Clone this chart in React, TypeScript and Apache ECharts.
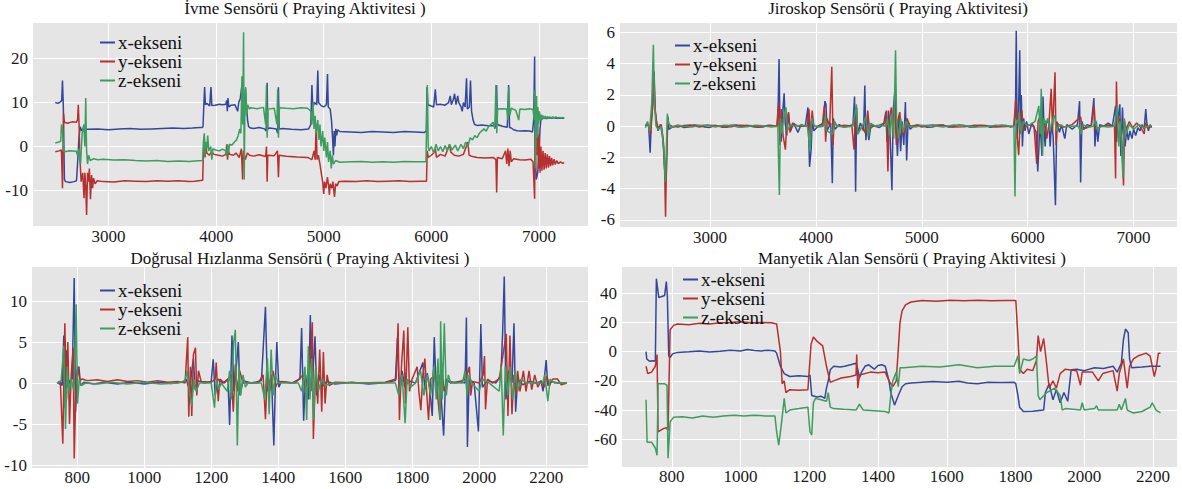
import React, { useEffect, useRef } from "react";
import * as echarts from "echarts";

type P = [number, number][];

// ---------- İvme (accelerometer) ----------
const accX: P = [[2505,10],[2530,9.8],[2555,10.2],[2565,10.5],[2572,15],[2580,9],[2590,-7.5],[2600,-8],[2640,-8.2],[2680,-8],[2702,-7.8],[2712,-4],[2725,2],[2737,4.5],[2750,3.6],[2770,4.2],[2800,3.9],[2900,4],[3000,3.8],[3100,4],[3200,4.1],[3300,3.9],[3400,4],[3500,4.1],[3600,4.2],[3700,4.1],[3780,4.2],[3850,4.3],[3870,4.3],[3878,4.5],[3885,9],[3893,13.5],[3900,9.5],[3915,9.8],[3940,9.2],[3952,13.5],[3960,9.3],[3990,9.4],[4030,9.6],[4060,9.5],[4090,9.6],[4098,10.5],[4104,8],[4110,11],[4118,9],[4140,9.4],[4175,9.5],[4200,8],[4210,10],[4225,11],[4240,14],[4250,9],[4262,8],[4272,13],[4282,9.5],[4292,6],[4302,4.5],[4320,4.2],[4350,4.1],[4400,4.3],[4450,4],[4465,3.5],[4474,14.5],[4480,4],[4500,4.2],[4560,4],[4572,3],[4579,13.5],[4586,4],[4620,4.1],[4700,3.9],[4790,3.8],[4860,4],[4880,5],[4890,14],[4898,9],[4915,10],[4935,9.5],[4945,17.3],[4952,10],[4975,9.3],[5000,9],[5025,9.5],[5035,16.5],[5042,9],[5060,8.5],[5072,6],[5082,2],[5090,-2],[5097,3.5],[5104,0],[5112,4],[5120,2.5],[5130,3.8],[5150,3.4],[5250,3.3],[5350,3.2],[5450,3.4],[5550,3.3],[5650,3.2],[5750,3.4],[5850,3.3],[5935,3.2],[5953,3.5],[5960,13.5],[5968,9.5],[6000,9.2],[6022,9],[6037,13],[6048,9.5],[6085,9.6],[6128,9.4],[6160,10],[6176,11.5],[6186,9.5],[6202,10.5],[6216,12],[6229,9.5],[6245,11.5],[6255,10],[6276,9],[6287,8],[6298,10],[6314,9],[6327,15.5],[6335,8.5],[6353,9],[6364,15],[6374,8],[6388,6],[6402,5],[6425,4.8],[6467,4.9],[6531,4.7],[6584,4.8],[6595,4.2],[6607,14],[6614,5],[6659,4.6],[6706,4.4],[6718,14],[6727,4.3],[6743,4.2],[6765,3.8],[6797,3.6],[6828,3.5],[6871,3.6],[6913,3.5],[6940,3.3],[6951,6],[6960,20.5],[6963,3],[6968,-2],[6974,-7.5],[6980,-7],[6988,-6],[6995,-4],[7003,0],[7010,4],[7018,6],[7025,7.2],[7033,6.2],[7043,6.8],[7053,6.3],[7063,6.7],[7073,6.3],[7083,6.7],[7093,6.4],[7103,6.6],[7118,6.4],[7138,6.6],[7158,6.4],[7178,6.5],[7198,6.4],[7218,6.5],[7235,6.4]];

const accY: P = [[2505,-1.2],[2540,-1],[2562,-0.8],[2572,-9.5],[2582,7.5],[2590,5.5],[2620,5.3],[2660,5.6],[2700,5.5],[2712,6],[2719,9.5],[2726,5],[2735,-3],[2745,-8],[2760,-6],[2772,-11.8],[2780,-6],[2788,-9],[2796,-15.6],[2805,-6],[2814,-8],[2822,-5],[2832,-12],[2842,-6.5],[2852,-9.5],[2860,-7.2],[2875,-8.5],[2895,-7.8],[2950,-8],[3050,-8.1],[3150,-7.8],[3250,-7.9],[3350,-8],[3450,-7.8],[3550,-7.9],[3650,-7.8],[3750,-8],[3800,-7.9],[3875,-7.7],[3882,-1],[3890,2],[3897,-2.5],[3904,0.5],[3913,-1.5],[3935,-2],[3960,-1.2],[3980,-1.8],[4020,-2],[4060,-2.2],[4090,-1.8],[4099,0.5],[4106,-3],[4113,-1],[4125,-1.8],[4160,-2],[4185,-1.5],[4215,-2.5],[4235,-0.5],[4246,-7.5],[4254,-1],[4270,-3],[4290,-1.5],[4310,-2],[4350,-2.2],[4400,-1.9],[4460,-2.3],[4468,0],[4474,-8],[4480,-2],[4540,-2.1],[4570,-1],[4579,-7],[4586,-2],[4650,-2.2],[4750,-2.4],[4850,-2.5],[4890,-3],[4910,-1],[4920,-3],[4930,5],[4938,-3],[4950,-2],[4965,-4],[4980,-6.5],[4990,-8],[5000,-10.8],[5008,-8],[5020,-9.5],[5035,-7],[5045,-9],[5053,-11],[5060,-8.5],[5075,-9.5],[5085,-8],[5100,-11.5],[5110,-8.5],[5125,-9],[5140,-8],[5200,-7.9],[5300,-8],[5400,-7.8],[5500,-8],[5600,-7.9],[5700,-7.8],[5800,-8],[5900,-7.9],[5955,-7.9],[5962,-1],[5971,-2.5],[6000,-2],[6022,-1.5],[6037,-0.5],[6048,-2.5],[6085,-1.8],[6128,-2.2],[6170,0.5],[6181,-1.3],[6213,-2],[6255,-2.2],[6298,-1.8],[6340,1],[6351,-2],[6383,-2.3],[6425,-2.5],[6499,-2.6],[6574,-2.5],[6600,-3],[6607,-10.5],[6614,-2.5],[6659,-2.8],[6690,-1],[6701,-4],[6712,-0.5],[6722,-4.5],[6733,-1],[6743,-3.5],[6765,-2.8],[6818,-3],[6871,-3.1],[6924,-2.9],[6945,-3.5],[6960,-11.9],[6964,3],[6970,-1],[6975,5.5],[6980,-2],[6988,6],[6995,-5],[7003,2.5],[7010,-6],[7018,0],[7028,-5.5],[7038,-1],[7048,-5.3],[7058,-1.5],[7068,-5],[7078,-1.8],[7088,-4.8],[7098,-2.2],[7108,-4.5],[7118,-2.6],[7128,-4.3],[7140,-2.9],[7152,-4.1],[7165,-3.2],[7180,-3.9],[7200,-3.5],[7218,-3.8],[7235,-3.7]];

const accZ: P = [[2505,0.8],[2540,1],[2556,1.2],[2562,5],[2572,4],[2582,-1],[2590,-1.2],[2640,-1],[2700,-1.1],[2712,-2],[2725,-0.5],[2740,-4],[2755,3],[2770,5],[2780,0],[2788,11],[2796,-1],[2805,-4],[2815,-2],[2830,-3.2],[2860,-2.8],[2900,-3],[2950,-2.9],[3050,-3.1],[3150,-3],[3250,-3.2],[3350,-3.3],[3450,-3.2],[3550,-3.4],[3650,-3.3],[3750,-3.4],[3800,-3.3],[3875,-3.2],[3882,1],[3890,3],[3897,-2],[3904,1],[3913,-0.5],[3922,2.5],[3931,-1],[3950,0],[3960,-3],[3970,-0.5],[3995,-0.8],[4030,-1],[4060,-0.6],[4090,-1],[4099,-2.2],[4106,0.5],[4115,-1.5],[4125,0.5],[4145,0.3],[4170,1],[4190,1.5],[4205,2.5],[4220,4],[4230,3],[4240,16],[4247,5],[4255,26],[4261,-7.5],[4267,8],[4275,13.5],[4283,7],[4293,9.5],[4310,8.5],[4320,8.8],[4380,8.6],[4440,8.9],[4460,5],[4468,14],[4474,2],[4482,8.5],[4540,8.7],[4565,5],[4572,13],[4579,2],[4588,8.8],[4650,8.7],[4720,8.6],[4790,8.8],[4850,8.7],[4880,8],[4890,5],[4900,10],[4910,4],[4920,7],[4930,3],[4945,6],[4955,1.5],[4965,5],[4975,0],[4990,3.5],[5000,-1],[5010,2],[5025,-2.5],[5035,1],[5045,-3.5],[5060,-1],[5070,-5],[5080,-2],[5090,-4],[5110,-3.2],[5150,-3.6],[5250,-3.5],[5350,-3.4],[5450,-3.6],[5550,-3.5],[5650,-3.6],[5750,-3.4],[5850,-3.5],[5950,-3.5],[5963,14],[5971,0],[5979,-1],[6000,0],[6022,-1.5],[6043,0.5],[6064,-1],[6085,0],[6107,-1.2],[6128,0.2],[6149,-1],[6170,0.5],[6191,-0.8],[6223,0.3],[6245,-1],[6276,0.5],[6298,-0.5],[6319,1],[6340,0],[6361,2],[6383,1.5],[6404,2.5],[6425,2],[6446,3],[6467,3.5],[6489,4],[6510,3.5],[6531,4.5],[6552,5],[6574,5.5],[6590,4],[6600,14],[6608,3],[6616,8.5],[6659,8.6],[6701,8.5],[6712,6],[6720,13.5],[6729,7],[6743,8.7],[6786,8.2],[6812,6],[6823,8.5],[6871,8.4],[6913,8.6],[6945,8.4],[6956,6],[6963,13],[6968,-5],[6974,4],[6978,11.5],[6984,2],[6990,9],[6998,5],[7005,8],[7013,6],[7020,7.2],[7028,6.2],[7038,7],[7048,6.3],[7058,6.9],[7068,6.4],[7078,6.8],[7088,6.4],[7098,6.7],[7113,6.5],[7128,6.7],[7143,6.5],[7158,6.7],[7173,6.5],[7188,6.6],[7203,6.5],[7218,6.6],[7235,6.5]];

// ---------- Jiroskop (gyroscope) ----------
const gyroX: P = [[2390,0],[2405,0.2],[2420,0.1],[2435,-1.7],[2445,0.3],[2462,1.5],[2472,3.5],[2482,1],[2495,0.3],[2510,-0.3],[2530,0.1],[2550,-0.5],[2565,-1.8],[2575,-3.2],[2585,-3.6],[2595,-1],[2603,0.6],[2612,-0.2],[2630,-0.1],[2700,0.05],[2750,-0.08],[2800,-0.05],[2850,0.07],[2900,0.05],[2950,-0.06],[3000,-0.08],[3050,0.05],[3100,0],[3150,-0.07],[3200,0.06],[3250,0.08],[3300,-0.05],[3350,0.04],[3400,0.03],[3450,-0.07],[3500,-0.04],[3550,0.06],[3600,0.02],[3640,0],[3652,4.3],[3660,0.2],[3672,-1],[3690,1.2],[3700,2.1],[3710,0.2],[3725,-0.6],[3740,0.8],[3760,-0.3],[3790,0.2],[3830,-0.4],[3860,0.1],[3900,0],[3925,1.2],[3940,-2.6],[3955,-1.5],[3965,0.5],[3980,-0.3],[4020,0],[4070,0.2],[4085,1.6],[4095,1.4],[4105,-0.3],[4140,0.2],[4155,-3.65],[4165,0.5],[4180,-0.2],[4220,0.1],[4260,-0.06],[4300,0],[4350,0.1],[4365,1.9],[4375,-4.2],[4385,1.2],[4395,-0.5],[4420,0.2],[4450,-0.3],[4462,2.6],[4472,-0.9],[4485,0.4],[4500,-0.9],[4520,0.1],[4560,0],[4600,-0.08],[4640,0.1],[4660,0.9],[4672,-1],[4685,1],[4700,-0.5],[4718,-4.1],[4730,1],[4745,2.2],[4755,0.5],[4770,-1.9],[4785,0.6],[4800,-1.6],[4815,0.3],[4830,-1.2],[4845,1.55],[4857,-2.2],[4870,0.3],[4890,-0.2],[4920,0],[4960,0.07],[5000,0.05],[5050,-0.07],[5100,-0.05],[5150,0.06],[5200,0.08],[5250,-0.06],[5300,-0.03],[5350,0.07],[5400,0.05],[5450,-0.05],[5500,-0.06],[5550,0.05],[5600,0.03],[5650,-0.07],[5700,0],[5750,0.06],[5800,0.05],[5840,-0.06],[5870,0],[5885,1],[5892,6.1],[5900,-0.8],[5912,0.5],[5925,4.85],[5932,0.3],[5940,2],[5950,-1.3],[5962,0.5],[5975,-0.3],[5990,0.3],[6010,-0.5],[6040,0.2],[6080,-0.4],[6095,-2.9],[6105,-1.5],[6115,0.4],[6135,-1.9],[6145,1.9],[6155,-0.3],[6165,-1.3],[6175,0.2],[6200,0.3],[6212,-1.3],[6225,0.2],[6240,-0.6],[6262,-5.05],[6275,0.3],[6300,-0.4],[6320,0.1],[6350,-0.8],[6370,0.1],[6420,-0.2],[6470,0.1],[6490,1.6],[6500,-3.6],[6512,0.3],[6530,-0.2],[6560,0.1],[6600,0],[6625,1.8],[6635,-1.3],[6648,0.3],[6662,-1],[6680,0.1],[6720,0],[6760,0.2],[6800,0],[6830,1.3],[6840,-1],[6852,0.4],[6870,1.4],[6880,-1.9],[6895,1.2],[6905,-0.5],[6920,-1.3],[6935,-0.2],[6950,-0.9],[6965,-0.3],[6985,-0.8],[7000,-0.2],[7020,-0.6],[7040,-0.1],[7060,-0.3],[7080,0.1],[7100,-0.2],[7115,1.1],[7125,0.2],[7140,-0.3],[7155,0.1],[7170,-0.1]];

const gyroY: P = [[2390,0.1],[2420,0],[2440,-0.5],[2455,1],[2470,3.4],[2480,1.2],[2495,0.2],[2510,-0.1],[2540,0.1],[2560,-1],[2572,-3],[2580,-5.8],[2590,-2],[2600,0.5],[2612,0.1],[2640,0],[2700,-0.06],[2750,0.05],[2820,0.07],[2900,-0.05],[2980,0.06],[3050,0.05],[3120,-0.07],[3200,-0.03],[3280,0.06],[3350,0.04],[3420,-0.06],[3500,-0.03],[3570,0.05],[3630,0],[3648,1.5],[3660,-1.2],[3672,1.1],[3690,-0.6],[3712,-1.5],[3725,0.3],[3742,0.9],[3755,-0.4],[3780,0.2],[3830,0],[3920,0],[3935,1.1],[3948,-0.7],[3965,1],[3980,0],[4060,0],[4080,1.3],[4092,-1],[4105,0.5],[4130,0],[4150,3.8],[4162,-1.2],[4172,0.3],[4200,0],[4270,0.06],[4340,0],[4360,-1.5],[4375,0.8],[4390,-0.4],[4440,0],[4470,-0.5],[4490,1],[4505,-0.2],[4540,0],[4600,0.06],[4650,0.2],[4665,1],[4680,-2.9],[4692,0.3],[4712,1.2],[4725,-0.5],[4742,1.5],[4760,-1.2],[4775,0.4],[4792,0.9],[4810,-0.5],[4840,-0.4],[4860,0.5],[4890,0],[4950,0.06],[5000,-0.05],[5100,0.07],[5200,0.05],[5300,-0.06],[5400,-0.04],[5500,0.06],[5600,0.04],[5700,-0.06],[5800,-0.02],[5870,0],[5886,1.7],[5896,-0.3],[5915,-1.85],[5930,0.6],[5945,1],[5958,-0.3],[5990,0.1],[6060,0],[6085,-2.4],[6098,0.3],[6125,0.8],[6140,-0.4],[6160,0.2],[6180,-0.8],[6200,0.1],[6222,2.4],[6235,-0.3],[6258,3.45],[6268,-1.2],[6280,0.2],[6320,-0.1],[6420,0.1],[6500,0.6],[6515,-0.2],[6600,0],[6628,1.3],[6640,-0.2],[6700,0],[6760,0.06],[6820,0],[6830,-3.35],[6838,2.85],[6848,0.2],[6870,0.5],[6890,-1],[6905,-3.8],[6915,0.3],[6930,-0.2],[6960,0.3],[6990,-0.1],[7030,0.2],[7070,-0.1],[7100,-0.5],[7110,0.2],[7140,-0.1],[7170,0]];

const gyroZ: P = [[2390,-0.1],[2410,0.3],[2430,-0.3],[2450,1.5],[2465,5.2],[2475,1.5],[2490,0],[2510,-0.2],[2540,0],[2565,-1.5],[2578,-3.6],[2588,-1.5],[2597,0.8],[2608,0.2],[2630,-0.1],[2690,0.07],[2750,0],[2830,-0.06],[2900,0.05],[2970,0.07],[3050,-0.05],[3130,0.06],[3200,0.05],[3270,-0.07],[3350,-0.04],[3430,0.06],[3500,0.03],[3580,-0.05],[3640,0],[3655,-4.4],[3665,0.5],[3680,-0.5],[3700,0.8],[3718,1.2],[3730,-0.3],[3760,0.1],[3800,0],[3860,0.06],[3920,0],[3945,-1.6],[3960,0.5],[3985,0],[4030,-0.06],[4070,0],[4090,0.7],[4100,-0.3],[4160,-0.5],[4175,0.3],[4200,0],[4280,-0.06],[4350,0],[4382,1.4],[4395,-0.5],[4440,0],[4470,0.6],[4495,-0.7],[4515,0.2],[4560,0],[4610,0.06],[4660,0],[4675,0.5],[4695,-0.6],[4715,0.8],[4735,-0.8],[4752,4.85],[4762,0.3],[4780,-0.8],[4800,0.5],[4825,-0.4],[4850,0.3],[4880,0],[4940,-0.06],[5000,0.05],[5080,0.06],[5200,-0.05],[5300,0.07],[5400,0.04],[5500,-0.06],[5600,-0.04],[5700,0.06],[5800,0.03],[5870,0],[5880,-4.5],[5890,0.4],[5905,0.2],[5920,0.9],[5935,-0.5],[5960,0.3],[6000,0],[6070,0.3],[6105,1.3],[6118,-0.5],[6128,2.4],[6140,-1.9],[6152,0.5],[6175,0.2],[6190,0.5],[6210,-0.3],[6240,0.5],[6255,0.7],[6270,-0.3],[6300,0.1],[6350,-0.06],[6400,0],[6480,0],[6505,-0.5],[6520,0.1],[6570,-0.06],[6620,0],[6640,0.4],[6655,-0.2],[6700,0],[6760,-0.06],[6820,0],[6845,1.3],[6860,-1.3],[6875,0.3],[6900,-3.3],[6912,0.5],[6930,-0.5],[6960,0.1],[7000,-0.2],[7050,0.1],[7100,-0.1],[7140,0],[7170,0.05]];

// ---------- Doğrusal Hızlanma (linear acceleration) ----------
const linX: P = [[740,0],[748,0.2],[755,-0.3],[760,5.8],[764,-3],[768,4],[772,-0.5],[778,0.3],[785,0.5],[791,12.8],[795,-3.5],[800,0.8],[805,2],[810,-0.3],[820,0.1],[850,-0.1],[880,0.1],[920,-0.1],[960,0.1],[1000,-0.1],[1040,0.1],[1080,-0.05],[1115,0.1],[1125,0.5],[1135,-0.8],[1147,3],[1152,-0.8],[1160,0.3],[1180,0],[1200,0.2],[1206,2.9],[1212,-1.5],[1220,0.5],[1235,0],[1250,0.5],[1255,-5.1],[1262,5.8],[1268,-1],[1275,2],[1281,5],[1286,-1.5],[1295,0.3],[1320,0],[1350,0.3],[1362,9.3],[1368,-1],[1380,1],[1387,-7.6],[1392,0.5],[1396,5],[1402,-0.5],[1410,0.2],[1440,0],[1465,0.5],[1470,6.7],[1476,-4.6],[1482,1],[1490,-2],[1496,8.3],[1501,-1],[1506,3],[1510,5.7],[1515,-1.5],[1522,1],[1530,-0.5],[1545,0.2],[1570,-0.1],[1620,0.1],[1670,-0.1],[1720,0.05],[1750,0.3],[1756,5.5],[1762,-1.5],[1770,1.5],[1778,-0.5],[1790,0.3],[1810,0],[1832,2.5],[1838,-0.8],[1845,1.2],[1852,-0.5],[1860,-4],[1866,5.6],[1872,-1],[1880,1],[1887,-2],[1894,-6.4],[1900,0.5],[1915,0],[1940,0.2],[1958,0],[1962,8],[1965,-7.8],[1970,0.5],[1985,0],[1998,-5.9],[2005,7.2],[2010,-0.5],[2025,0.3],[2050,0],[2065,1],[2070,6],[2075,13],[2080,-2],[2088,1.5],[2098,0],[2104,7.3],[2109,-3.5],[2115,0.5],[2130,-0.2],[2150,0.2],[2170,0],[2185,0.2],[2191,-1],[2200,2.8],[2205,-0.3],[2215,0.2],[2235,0],[2262,0]];

const linY: P = [[740,0.1],[750,-0.2],[757,-7.4],[763,7.3],[768,-2],[772,5],[777,-5],[782,1],[788,4.3],[791,-9.2],[797,1],[802,2],[808,0.3],[815,0.5],[830,0.3],[860,0.4],[890,0.2],[920,0.4],[950,0.2],[980,0.3],[1010,0.1],[1040,0.3],[1070,0.1],[1100,0.2],[1122,0],[1130,5.6],[1133,-4.1],[1138,2],[1142,-4],[1147,3.5],[1153,4.3],[1157,-1.5],[1162,1.5],[1170,0.2],[1200,0.1],[1212,0.5],[1215,2.5],[1221,-2.2],[1226,0.5],[1240,0],[1260,1],[1266,-3.5],[1272,2.3],[1278,-1],[1285,1.5],[1295,0],[1340,0],[1355,1],[1362,-4.4],[1368,1.5],[1375,-1],[1385,1.5],[1392,-0.5],[1400,0.2],[1450,0],[1475,1],[1485,-2],[1495,2],[1502,7.4],[1505,-6.8],[1512,2],[1518,-2.5],[1524,4.1],[1530,-3.5],[1535,3.8],[1540,-2.5],[1546,1],[1552,-0.3],[1570,0.1],[1650,0],[1720,0.1],[1752,0.5],[1758,7.3],[1762,-4.5],[1768,2],[1775,6.4],[1780,-2.5],[1787,6.8],[1792,-1],[1800,0.5],[1815,2],[1820,-1],[1826,-3.3],[1832,1],[1838,3],[1843,-1],[1849,-4.5],[1855,0.5],[1870,1],[1883,-4.5],[1888,2.5],[1895,-1],[1905,0.3],[1930,0],[1960,0.5],[1971,2],[1975,-1.5],[1980,0.2],[2000,0],[2012,1],[2016,3.3],[2019,-3.2],[2025,0.5],[2040,0],[2060,0.5],[2081,6],[2086,-4],[2092,5.8],[2098,-3.8],[2104,1],[2110,-1.5],[2115,1.5],[2122,-1],[2132,1.5],[2140,-1],[2149,1.5],[2157,-0.8],[2166,1],[2175,-0.5],[2185,0.3],[2195,-0.5],[2202,0.8],[2210,-0.3],[2220,0.5],[2234,0.5],[2245,-0.2],[2262,0]];

const linZ: P = [[740,0],[752,0.3],[760,4.5],[765,-5.6],[770,2],[775,-1],[782,0.5],[790,-1],[797,9.6],[801,-2.5],[806,0.5],[812,-0.3],[825,0],[860,-0.1],[900,0.1],[950,-0.1],[1000,0.1],[1050,-0.1],[1100,0],[1122,0.3],[1128,1.5],[1135,-1],[1142,-2.8],[1148,0.5],[1155,-1],[1165,0],[1200,0],[1210,-3],[1215,0.5],[1222,-0.8],[1230,0],[1248,-1],[1255,1.5],[1260,-2],[1267,4.9],[1272,6.5],[1276,-2.5],[1278,-7.6],[1283,2],[1288,-1.5],[1295,1],[1302,-0.5],[1310,0],[1350,0],[1360,-2],[1368,3],[1373,-3.8],[1379,4.1],[1385,-1.5],[1392,1],[1400,0],[1460,0],[1470,-1],[1480,2],[1485,-4.5],[1490,4.5],[1495,-2],[1500,3],[1506,-4.5],[1512,2],[1520,-1],[1530,0.5],[1540,-0.3],[1560,0],[1700,0],[1750,0],[1760,-1.5],[1770,1],[1779,-4.9],[1785,0.5],[1795,-0.5],[1810,0],[1825,1.5],[1835,-1.5],[1845,1],[1855,-1.5],[1865,2],[1872,-2],[1877,3],[1883,-4.5],[1885,7.55],[1890,-2],[1896,7.3],[1902,-1.5],[1908,1],[1915,0],[1950,0],[1958,1.5],[1964,-1.5],[1970,1],[1978,0],[2000,-1],[2010,0.5],[2030,0],[2060,-1],[2066,2],[2072,-6.4],[2078,2],[2085,-1.5],[2092,2],[2100,-2],[2108,1.5],[2115,-1],[2125,0.5],[2140,0],[2190,0],[2196,1],[2205,-2.2],[2212,0.5],[2225,0],[2262,0]];

// ---------- Manyetik Alan (magnetometer) ----------
const magX: P = [[725,0],[727,-5],[735,-6.5],[745,-6.3],[752,-6.5],[755,50],[762,37],[773,38],[779,38.5],[784,48],[787,38],[791,-3],[795,-4],[802,-1.5],[816,-0.5],[850,0],[880,0.5],[910,-0.2],[940,0.3],[970,1],[1000,0.5],[1020,1.5],[1040,0.8],[1060,0.5],[1080,1],[1100,0.5],[1105,-1],[1116,-10],[1127,-15],[1143,-17],[1170,-16.5],[1196,-17],[1202,-16],[1207,-30],[1223,-31],[1234,-30.5],[1245,-32],[1250,-25],[1255,-20],[1261,-12.4],[1271,-10],[1290,-10.5],[1303,-10],[1320,-9],[1336,-7.9],[1341,-12],[1346,-18],[1352,-14],[1362,-10],[1373,-9],[1389,-12],[1400,-9.5],[1411,-9],[1421,-10],[1432,-20],[1437,-28],[1448,-36.6],[1459,-30],[1470,-24],[1480,-22],[1496,-21.5],[1528,-21],[1560,-20.5],[1600,-21],[1636,-20.2],[1660,-21.5],[1689,-22],[1720,-21],[1760,-21.2],[1796,-21],[1801,-22],[1807,-30],[1812,-38],[1823,-41],[1850,-40.8],[1882,-40],[1887,-28],[1898,-22],[1909,-33],[1919,-26],[1930,-35],[1941,-28],[1952,-34],[1962,-12.4],[1978,-12],[2000,-13],[2030,-11],[2056,-11.5],[2084,-10],[2096,-14],[2108,-8],[2114,8],[2120,15.5],[2128,13],[2132,-5],[2138,-11],[2168,-10.5],[2192,-10],[2216,-10],[2222,-10]];

const magY: P = [[725,-10],[730,-15],[741,-14],[752,-10],[757,-2],[760,-55],[773,-53],[784,-52],[789,-54],[795,15],[805,18],[816,19],[850,18.5],[880,19.5],[910,19],[940,19.8],[970,20],[1000,20.5],[1030,19.8],[1060,20],[1090,19.8],[1105,19],[1116,0],[1121,-22],[1127,-20],[1132,-28],[1143,-26],[1170,-26.5],[1196,-26],[1205,5],[1212,10],[1223,7],[1239,4],[1250,-10],[1261,-21],[1271,-20],[1293,-18],[1320,-17],[1336,-16],[1338,-2],[1341,-25],[1346,-16],[1378,-14],[1400,-14.5],[1421,-14],[1432,-20],[1443,-24],[1453,-20],[1464,20],[1470,28],[1480,32],[1496,34],[1528,35],[1570,34.5],[1610,35.2],[1650,34.8],[1690,35.3],[1730,34.8],[1770,35],[1801,35],[1807,10],[1812,-12],[1823,-15],[1834,-12],[1850,-13],[1861,-6],[1866,11],[1873,0],[1882,9],[1889,-5],[1898,-25],[1909,-20],[1919,-25],[1930,-15],[1945,-12],[1978,-13],[1989,-23],[1994,-14],[2024,-14],[2041,-20],[2054,-15],[2084,-13],[2096,-27],[2102,-15],[2114,-5],[2125,-25],[2132,-10],[2143,-5],[2156,-3],[2180,-1],[2192,-3],[2204,-17],[2209,-12],[2216,-1],[2222,-1]];

const magZ: P = [[725,-33],[728,-62],[741,-62],[752,-66],[757,-71],[760,-22],[779,-22],[786,-23],[789,-73],[795,-48],[805,-45],[830,-44.5],[860,-45.5],[890,-44],[920,-45],[950,-44],[980,-43.5],[1010,-44],[1040,-43.5],[1070,-44],[1100,-44],[1105,-55],[1111,-64],[1116,-55],[1121,-45],[1127,-32],[1132,-42],[1143,-40],[1170,-39],[1196,-38],[1202,-55],[1207,-57],[1212,-35],[1218,-32],[1234,-33],[1250,-34],[1255,-28],[1261,-38],[1271,-39],[1300,-39.5],[1336,-40],[1346,-36],[1357,-40],[1390,-40.5],[1421,-41],[1432,-42],[1437,-30],[1443,-20],[1453,-14],[1459,-24],[1464,-11],[1475,-11],[1528,-10],[1580,-10.5],[1636,-9],[1689,-11],[1740,-10],[1796,-10],[1807,-3],[1812,-15],[1823,-5],[1839,-6],[1850,-5],[1861,-3],[1866,-30],[1871,-33],[1891,-28],[1914,-25],[1930,-30],[1936,-40],[1945,-39],[1989,-40],[1994,-35],[2000,-40],[2030,-39],[2036,-37],[2041,-40],[2096,-40],[2102,-36],[2108,-40],[2120,-32],[2125,-40],[2143,-42],[2168,-41],[2192,-38],[2198,-35],[2209,-40],[2222,-42]];

// ---------- labels / ticks ----------
const seriesNames = ["x-ekseni", "y-ekseni", "z-ekseni"];
const titles = [
  "İvme Sensörü ( Praying Aktivitesi )",
  "Jiroskop Sensörü ( Praying Aktivitesi)",
  "Doğrusal Hızlanma Sensörü ( Praying Aktivitesi )",
  "Manyetik Alan Sensörü ( Praying Aktivitesi )",
];
const accXTicks = [3000, 4000, 5000, 6000, 7000];
const accYTicks = [-10, 0, 10, 20];
const gyroXTicks = [3000, 4000, 5000, 6000, 7000];
const gyroYTicks = [-6, -4, -2, 0, 2, 4, 6];
const linXTicks = [800, 1000, 1200, 1400, 1600, 1800, 2000, 2200];
const linYTicks = [-10, -5, 0, 5, 10];
const magXTicks = [800, 1000, 1200, 1400, 1600, 1800, 2000, 2200];
const magYTicks = [-60, -40, -20, 0, 20, 40];

const COLORS = ["#34479a", "#b5302e", "#3d9d5e"];
const FONT = "Liberation Serif";

const panels = [
  { grid: { left: 33, top: 23, width: 555, height: 203 }, xr: [2298, 7456], yr: [-18.1, 28.1], xt: accXTicks, yt: accYTicks, data: [accX, accY, accZ], title: [305, -1], leg: [100, 33, 13.5], xm: 2 },
  { grid: { left: 620, top: 23, width: 557, height: 204 }, xr: [2150, 7410], yr: [-6.45, 6.6], xt: gyroXTicks, yt: gyroYTicks, data: [gyroX, gyroY, gyroZ], title: [898, -1], leg: [675, 36, 14.5], xm: 2 },
  { grid: { left: 32, top: 267, width: 556, height: 201 }, xr: [665, 2325], yr: [-10.35, 14.15], xt: linXTicks, yt: linYTicks, data: [linX, linY, linZ], title: [300, 249], leg: [100, 281, 12.5], xm: 1 },
  { grid: { left: 622, top: 267, width: 555, height: 200 }, xr: [655, 2270], yr: [-79, 58], xt: magXTicks, yt: magYTicks, data: [magX, magY, magZ], title: [912, 249], leg: [683, 270, 13], xm: 1 },
];

export default function App() {
  const ref = useRef<HTMLDivElement>(null);
  useEffect(() => {
    document.body.style.margin = "0";
    const chart = echarts.init(ref.current as HTMLDivElement, null, { renderer: "svg" });
    const labelStyle = { fontFamily: FONT, fontSize: 17, color: "#1a1a1a", lineHeight: 17 };
    const option: any = {
      animation: false,
      backgroundColor: "#ffffff",
      textStyle: { fontFamily: FONT },
      title: panels.map((p, i) => ({
        text: titles[i],
        left: p.title[0],
        top: p.title[1],
        textAlign: "center",
        padding: 0,
        textStyle: { fontFamily: FONT, fontSize: 17, fontWeight: "normal", color: "#111", lineHeight: 19 },
      })),
      legend: panels.map((p) => ({
        data: seriesNames,
        orient: "vertical",
        left: p.leg[0],
        top: p.leg[1],
        padding: 0,
        itemGap: 0,
        itemWidth: 15,
        itemHeight: 2,
        icon: "rect",
        selectedMode: false,
        textStyle: { fontFamily: FONT, fontSize: 19, color: "#111", lineHeight: p.leg[2], padding: [0, 0, 0, -2] },
      })),
      grid: panels.map((p) => ({ ...p.grid, show: true, backgroundColor: "#E5E5E5", borderWidth: 0, containLabel: false })),
      xAxis: panels.map((p, i) => ({
        type: "value",
        gridIndex: i,
        min: p.xr[0],
        max: p.xr[1],
        axisLine: { show: false },
        axisTick: { show: true, length: 0, customValues: p.xt, lineStyle: { color: "rgba(0,0,0,0)" } },
        axisLabel: { ...labelStyle, customValues: p.xt, margin: p.xm, formatter: (v: number) => String(v) },
        splitLine: { show: true, lineStyle: { color: "#ffffff", width: 1 } },
      })),
      yAxis: panels.map((p, i) => ({
        type: "value",
        gridIndex: i,
        min: p.yr[0],
        max: p.yr[1],
        axisLine: { show: false },
        axisTick: { show: true, length: 0, customValues: p.yt, lineStyle: { color: "rgba(0,0,0,0)" } },
        axisLabel: { ...labelStyle, customValues: p.yt, margin: 5, formatter: (v: number) => String(v) },
        splitLine: { show: true, lineStyle: { color: "#ffffff", width: 1 } },
      })),
      series: panels.flatMap((p, i) =>
        p.data.map((d, k) => ({
          type: "line",
          name: seriesNames[k],
          xAxisIndex: i,
          yAxisIndex: i,
          data: d,
          showSymbol: false,
          symbol: "none",
          silent: true,
          color: COLORS[k],
          lineStyle: { width: 1.5, color: COLORS[k] },
        }))
      ),
    };
    chart.setOption(option);
    return () => chart.dispose();
  }, []);
  return <div ref={ref} style={{ width: 1182, height: 489 }} />;
}
